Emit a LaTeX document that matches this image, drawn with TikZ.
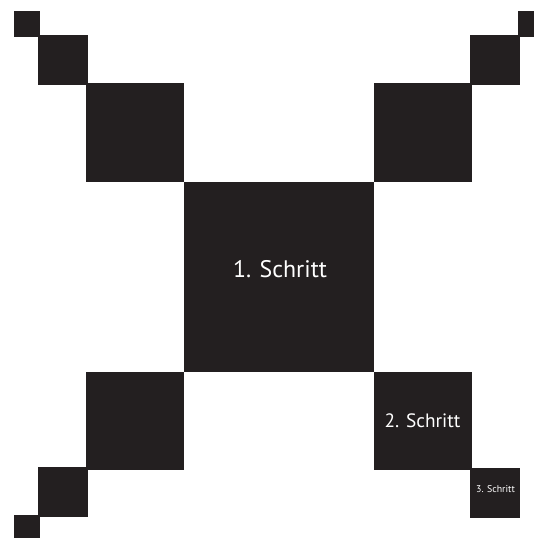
\documentclass[tikz,border=0pt]{standalone}
\usepackage{fontspec}
\setmainfont{PT Sans}
\definecolor{sq}{HTML}{231F20}
\begin{document}
\begin{tikzpicture}[x=1bp,y=-1bp,
  blk/.style={fill=sq,draw=none,inner sep=0pt,outer sep=0pt,text=white,minimum size=#1bp},
  lbl/.style={text=white,inner sep=0pt,anchor=base}]
\useasboundingbox (0,0) rectangle (534,538);
% center
\node[blk=190] (c) at (278.5,277) {};
% second level
\node[blk=98] (tl2) at (135,132.5) {};
\node[blk=98] (tr2) at (422.5,132.5) {};
\node[blk=98] (bl2) at (135,420.5) {};
\node[blk=98] (br2) at (422.5,421) {};
% third level
\node[blk=50] (tl3) at (63,60) {};
\node[blk=50] (tr3) at (494.5,60) {};
\node[blk=50] (bl3) at (63,492) {};
\node[blk=50] (br3) at (494.5,492.5) {};
% fourth level
\node[blk=26] (tl4) at (26.5,24) {};
\node[blk=26] (tr4) at (531,24) {};
\node[blk=26] (bl4) at (26.5,528) {};
% labels
\node[lbl,font=\fontsize{24}{28}\selectfont] (t1) at (280,277.3) {1. Schritt};
\node[lbl,font=\fontsize{19.4}{23}\selectfont] (t2) at (422.5,427.7) {2. Schritt};
\node[lbl,font=\fontsize{9.9}{12}\selectfont] (t3) at (495.5,492.7) {3. Schritt};
\end{tikzpicture}
\end{document}
